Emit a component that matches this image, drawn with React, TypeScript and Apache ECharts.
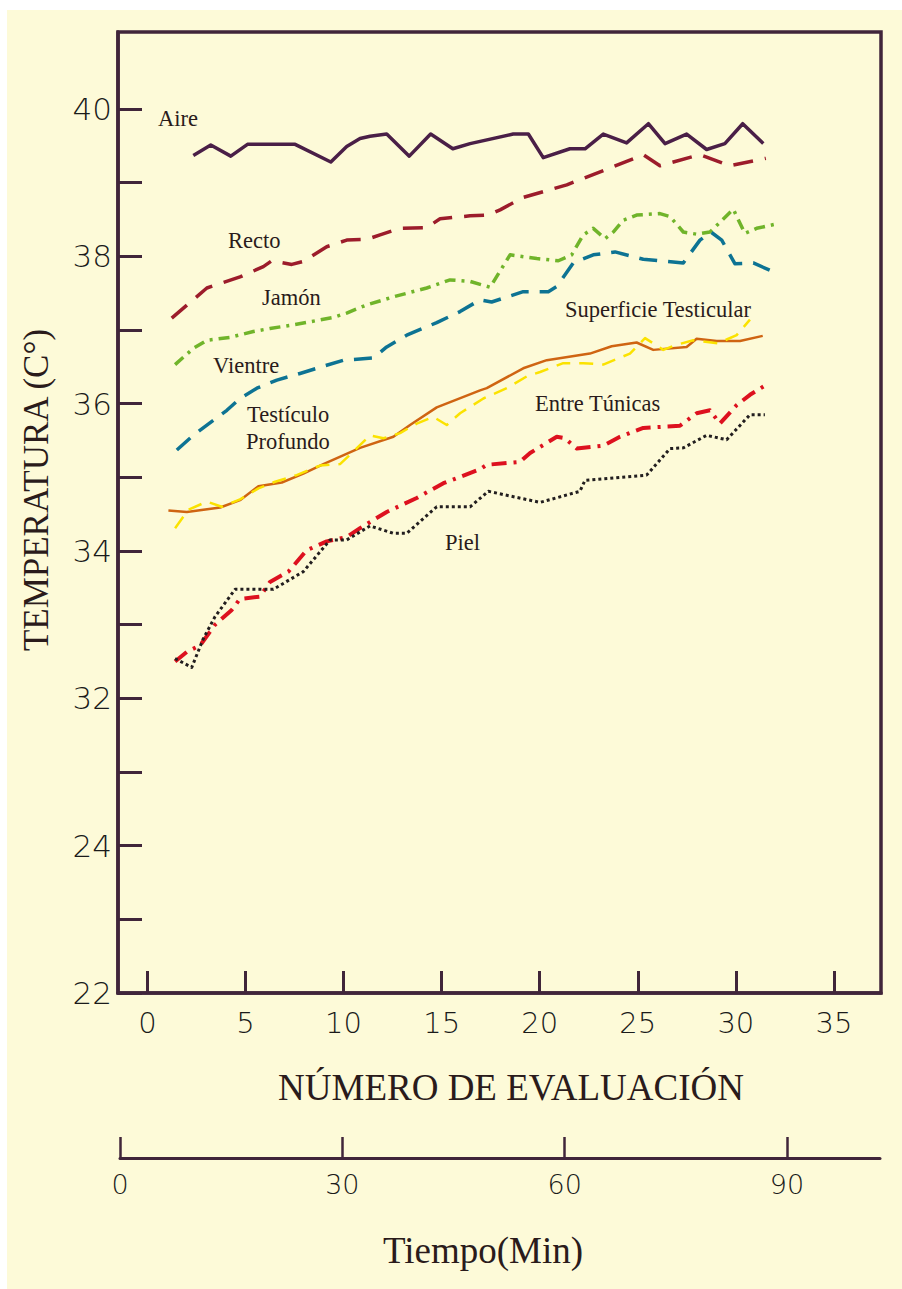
import React, { useEffect, useRef } from "react";
import * as echarts from "echarts";

// [número de evaluación, temperatura °C]
const aire: [number, number][] = [
  [2.34, 39.37], [3.23, 39.51], [4.25, 39.36], [5.1, 39.52], [7.53, 39.52], [9.35, 39.28],
  [10.16, 39.49], [10.84, 39.6], [11.35, 39.63], [12.2, 39.66], [13.35, 39.36], [14.44, 39.66],
  [15.57, 39.46], [16.45, 39.53], [18.65, 39.66], [19.42, 39.66], [20.18, 39.34], [21.54, 39.46],
  [22.31, 39.46], [23.24, 39.66], [24.43, 39.54], [25.54, 39.8], [26.39, 39.53], [27.49, 39.66],
  [28.51, 39.45], [29.44, 39.53], [30.35, 39.8], [31.4, 39.53],
];
const recto: [number, number][] = [
  [1.24, 37.16], [3.03, 37.57], [4.72, 37.72], [5.91, 37.86], [6.34, 37.94], [7.36, 37.89],
  [7.95, 37.93], [9.14, 38.13], [10.16, 38.22], [11.18, 38.23], [11.86, 38.29], [12.88, 38.38],
  [14.24, 38.39], [14.92, 38.51], [16.45, 38.55], [17.38, 38.56], [17.98, 38.63], [19.16, 38.8],
  [21.38, 38.97], [23.41, 39.18], [25.28, 39.38], [26.13, 39.23], [28.17, 39.38], [29.7, 39.23],
  [31.53, 39.33],
];
const jamon: [number, number][] = [
  [1.41, 36.53], [2.34, 36.75], [3.03, 36.86], [4.22, 36.9], [5.4, 36.98], [6.25, 37.02],
  [7.44, 37.07], [9.48, 37.17], [10.16, 37.23], [11.18, 37.34], [12.54, 37.45], [14.24, 37.57],
  [15.43, 37.68], [16.45, 37.66], [17.47, 37.58], [18.49, 38.02], [19.85, 37.97], [20.95, 37.94],
  [21.63, 38.02], [22.22, 38.29], [22.73, 38.38], [23.33, 38.24], [23.75, 38.33], [24.26, 38.49],
  [24.94, 38.56], [26.13, 38.58], [26.64, 38.54], [27.32, 38.33], [28.0, 38.3], [28.68, 38.33],
  [29.87, 38.64], [30.46, 38.31], [31.06, 38.38], [32.08, 38.44],
];
const vientre: [number, number][] = [
  [1.5, 35.37], [2.34, 35.57], [4.05, 35.91], [4.72, 36.07], [5.58, 36.21], [6.6, 36.32],
  [7.78, 36.41], [8.63, 36.48], [9.99, 36.59], [11.52, 36.62], [12.2, 36.77], [13.22, 36.93],
  [14.75, 37.1], [15.94, 37.25], [16.96, 37.41], [17.55, 37.38], [19.16, 37.52], [20.44, 37.52],
  [20.87, 37.59], [21.71, 37.91], [22.73, 38.02], [23.84, 38.06], [25.28, 37.96], [27.32, 37.91],
  [28.17, 38.22], [28.73, 38.33], [29.28, 38.22], [29.95, 37.9], [30.89, 37.91], [31.74, 37.81],
];
const testiculoProfundo: [number, number][] = [
  [1.07, 34.55], [2.01, 34.53], [3.71, 34.59], [4.72, 34.69], [5.66, 34.88], [6.85, 34.93],
  [7.95, 35.05], [8.97, 35.18], [10.84, 35.4], [12.54, 35.55], [13.39, 35.71], [14.75, 35.95],
  [16.96, 36.18], [17.3, 36.21], [19.16, 36.48], [20.36, 36.59], [22.56, 36.68], [23.67, 36.78],
  [24.94, 36.83], [25.79, 36.73], [27.49, 36.77], [28.0, 36.88], [29.02, 36.85], [30.21, 36.85],
  [31.37, 36.92],
];
const superficieTesticular: [number, number][] = [
  [1.41, 34.31], [2.09, 34.56], [3.03, 34.67], [3.79, 34.6], [4.72, 34.7], [5.66, 34.85],
  [6.51, 34.94], [7.61, 35.03], [8.8, 35.16], [9.82, 35.18], [10.5, 35.35], [11.35, 35.57],
  [12.03, 35.53], [12.88, 35.6], [13.73, 35.73], [14.58, 35.82], [15.26, 35.71], [15.94, 35.87],
  [17.13, 36.07], [18.32, 36.21], [19.34, 36.37], [20.02, 36.43], [21.2, 36.55], [22.22, 36.55],
  [23.24, 36.53], [24.6, 36.68], [25.37, 36.89], [26.3, 36.73], [26.98, 36.8], [27.83, 36.86],
  [29.1, 36.82], [30.04, 36.93], [30.72, 37.14],
];
const entreTunicas: [number, number][] = [
  [1.41, 32.5], [2.01, 32.63], [2.69, 32.72], [3.45, 33.0], [4.3, 33.2], [4.72, 33.35],
  [5.74, 33.38], [6.25, 33.58], [7.19, 33.72], [8.12, 34.01], [9.14, 34.13], [10.16, 34.19],
  [10.84, 34.31], [12.2, 34.53], [13.73, 34.72], [15.09, 34.92], [16.96, 35.11], [17.3, 35.17],
  [19.0, 35.21], [19.51, 35.33], [20.87, 35.55], [21.29, 35.53], [21.89, 35.39], [23.24, 35.43],
  [24.09, 35.55], [25.28, 35.67], [27.15, 35.7], [28.0, 35.87], [28.68, 35.91], [29.19, 35.73],
  [30.04, 35.98], [30.72, 36.12], [31.57, 36.26],
];
const piel: [number, number][] = [
  [1.41, 32.54], [2.26, 32.42], [2.85, 32.81], [3.45, 33.11], [4.47, 33.48], [6.42, 33.48],
  [7.95, 33.72], [9.31, 34.15], [10.16, 34.15], [11.35, 34.34], [12.54, 34.24], [13.22, 34.24],
  [14.75, 34.6], [16.45, 34.6], [17.38, 34.81], [20.02, 34.66], [22.05, 34.81], [22.31, 34.96],
  [25.45, 35.03], [26.64, 35.39], [27.32, 35.4], [28.51, 35.57], [29.53, 35.51], [30.72, 35.85],
  [31.48, 35.85],
];

const evalTicks = [0, 5, 10, 15, 20, 25, 30, 35];
const timeTicks = [0, 30, 60, 90];
const tempTicks = [28, 29, 30, 31, 32, 33, 34, 35, 36, 37, 38, 39, 40];
// printed labels of the (broken) temperature axis
const tempLabels: Record<number, string> = { 40: "40", 38: "38", 36: "36", 34: "34", 32: "32", 30: "24", 28: "22" };

const AXIS = "#40253a";
const CREAM = "#fdfad8";
const TEXT = "#2a1b1b";
const NUM_FONT = "'DejaVu Sans', sans-serif";
const SERIF = "'Liberation Serif', 'Times New Roman', serif";

export default function App() {
  const ref = useRef<HTMLDivElement>(null);
  useEffect(() => {
    if (!ref.current) return;
    const chart = echarts.init(ref.current, null, { renderer: "svg" });
    const line = (name: string, data: [number, number][], color: string, width: number, type: any) => ({
      name,
      type: "line",
      xAxisIndex: 0,
      yAxisIndex: 0,
      data,
      symbol: "none",
      lineStyle: { color, width, type, cap: "butt", join: "round" },
      z: 3,
    });
    const label = (text: string, x: number, y: number) => ({
      type: "text",
      left: x,
      top: y,
      style: { text, fill: TEXT, font: `22.5px ${SERIF}` },
      z: 10,
    });
    chart.setOption({
      animation: false,
      backgroundColor: "#ffffff",
      grid: [
        { left: 118, top: 32, width: 763, height: 961, show: true, borderColor: AXIS, borderWidth: 3.5, backgroundColor: "transparent" },
        { left: 120, top: 1100, width: 760, height: 58 },
      ],
      xAxis: [
        {
          type: "value",
          gridIndex: 0,
          min: -1.5,
          max: 37.4,
          splitLine: { show: false },
          axisLine: { onZero: false, lineStyle: { color: AXIS, width: 3.5 } },
          axisTick: { inside: true, length: 22, lineStyle: { color: AXIS, width: 3 }, customValues: evalTicks },
          axisLabel: { customValues: evalTicks, color: "#1a1a1a", fontFamily: NUM_FONT, fontWeight: 200, fontSize: 29, margin: 15 },
        },
        {
          type: "value",
          gridIndex: 1,
          min: 0,
          max: 102.55,
          splitLine: { show: false },
          axisLine: { onZero: false, lineStyle: { color: AXIS, width: 3 } },
          axisTick: { inside: true, length: 21, lineStyle: { color: AXIS, width: 2.5 }, customValues: timeTicks },
          axisLabel: { customValues: timeTicks, color: "#1a1a1a", fontFamily: NUM_FONT, fontWeight: 200, fontSize: 27, margin: 13 },
        },
      ],
      yAxis: [
        {
          type: "value",
          gridIndex: 0,
          min: 28,
          max: 41.045,
          splitLine: { show: false },
          axisLine: { onZero: false, lineStyle: { color: AXIS, width: 3.5 } },
          axisTick: { inside: true, length: 24, lineStyle: { color: AXIS, width: 3 }, customValues: tempTicks },
          axisLabel: {
            customValues: Object.keys(tempLabels).map(Number),
            formatter: (v: number) => tempLabels[Math.round(v)] ?? "",
            color: "#1a1a1a",
            fontFamily: NUM_FONT,
            fontWeight: 200,
            fontSize: 31,
            margin: 6,
          },
        },
        { type: "value", gridIndex: 1, show: false, min: 0, max: 1 },
      ],
      series: [
        line("Aire", aire, "#4a1f47", 3.5, "solid"),
        line("Recto", recto, "#9c1c2b", 3.5, [20, 12]),
        line("Jamón", jamon, "#70b42a", 3.5, [11, 6, 3, 6]),
        line("Vientre", vientre, "#0d7393", 3.5, [18, 11]),
        line("Testículo Profundo", testiculoProfundo, "#cf6412", 2.5, "solid"),
        line("Superficie Testicular", superficieTesticular, "#fbe200", 2.5, [14, 9]),
        line("Entre Túnicas", entreTunicas, "#dd111f", 4, [15, 7, 3, 7]),
        line("Piel", piel, "#221e1f", 3, [3, 3]),
      ],
      graphic: [
        { type: "rect", shape: { x: 7, y: 10, width: 895, height: 1279 }, style: { fill: CREAM }, z: -10, silent: true },
        label("Aire", 158, 107),
        label("Recto", 228, 229),
        label("Jamón", 262, 286),
        label("Vientre", 213, 354),
        label("Testículo", 247, 403),
        label("Profundo", 246, 430),
        label("Superficie Testicular", 565, 298),
        label("Entre Túnicas", 535, 392),
        label("Piel", 445, 531),
        {
          type: "text",
          x: 36,
          y: 490,
          rotation: Math.PI / 2,
          style: { text: "TEMPERATURA (C°)", fill: TEXT, font: `35px ${SERIF}`, textAlign: "center", textVerticalAlign: "middle" },
        },
        {
          type: "text",
          x: 511,
          y: 1087,
          style: { text: "NÚMERO DE EVALUACIÓN", fill: TEXT, font: `37px ${SERIF}`, textAlign: "center", textVerticalAlign: "middle" },
        },
        {
          type: "text",
          x: 483,
          y: 1250,
          style: { text: "Tiempo(Min)", fill: TEXT, font: `37px ${SERIF}`, textAlign: "center", textVerticalAlign: "middle" },
        },
      ],
    });
    return () => chart.dispose();
  }, []);
  return <div ref={ref} style={{ position: "absolute", left: 0, top: 0, width: 902, height: 1289 }} />;
}
